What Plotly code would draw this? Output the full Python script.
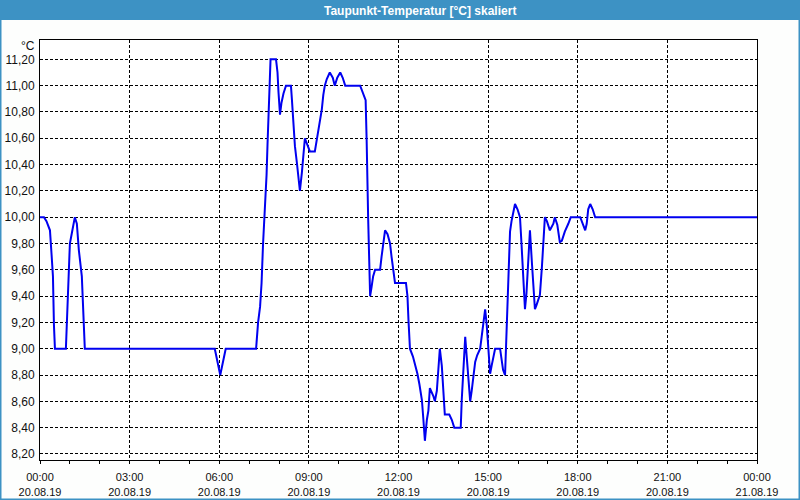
import plotly.graph_objects as go

# ---- data: minutes since 20.08.19 00:00, dew point in °C ----
minutes = [0, 8, 13, 20, 23, 26, 28, 30, 52, 54, 57, 60, 64, 70, 74, 78, 84, 87, 90,
           351, 362, 373, 434, 435, 438, 442, 445, 448, 452, 455, 457, 459, 461, 463,
           474, 477, 479, 482, 485, 489, 494, 504, 506, 509, 512, 516, 519, 522, 526,
           529, 532, 537, 542, 552, 556, 559, 562, 566, 569, 572, 576, 582, 588, 592,
           597, 603, 608, 613, 643, 647, 651, 654, 656, 657, 659, 661, 663, 666, 669,
           673, 683, 686, 689, 693, 698, 703, 706, 710, 713, 735, 738, 740, 743, 749,
           753, 758, 762, 767, 770, 773, 777, 780, 783, 787, 790, 793, 797, 800, 803,
           807, 810, 813, 822, 827, 832, 845, 847, 850, 852, 854, 857, 860, 864, 867,
           870, 874, 878, 884, 887, 890, 894, 897, 900, 904, 907, 910, 914, 924, 927,
           930, 934, 936, 939, 941, 943, 944, 947, 951, 954, 959, 964, 967, 971, 974,
           977, 981, 984, 988, 991, 994, 997, 1004, 1008, 1011, 1014, 1018, 1024, 1031,
           1034, 1039, 1044, 1048, 1054, 1061, 1066, 1085, 1090, 1095, 1098, 1101, 1105,
           1110, 1115, 1440]
values = [10.00, 10.00, 9.97, 9.90, 9.73, 9.55, 9.18, 9.00, 9.00, 9.17, 9.48, 9.80, 9.88, 10.00, 9.95, 9.75, 9.55, 9.20, 9.00,
          9.00, 8.80, 9.00, 9.00, 9.05, 9.20, 9.32, 9.50, 9.80, 10.05, 10.32, 10.56, 10.76, 10.97, 11.20,
          11.20, 11.10, 10.95, 10.78, 10.87, 10.94, 11.00, 11.00, 10.89, 10.69, 10.54, 10.41, 10.31, 10.20, 10.34,
          10.45, 10.60, 10.55, 10.50, 10.50, 10.59, 10.65, 10.74, 10.82, 10.93, 11.00, 11.05, 11.10, 11.06, 11.00,
          11.06, 11.10, 11.06, 11.00, 11.00, 10.96, 10.93, 10.89, 10.59, 10.31, 10.00, 9.70, 9.40, 9.47, 9.55,
          9.60, 9.60, 9.70, 9.80, 9.90, 9.87, 9.80, 9.70, 9.60, 9.50, 9.50, 9.40, 9.22, 9.00, 8.94,
          8.89, 8.81, 8.73, 8.61, 8.46, 8.30, 8.46, 8.53, 8.70, 8.67, 8.64, 8.60, 8.68, 8.84, 9.00,
          8.87, 8.70, 8.50, 8.50, 8.46, 8.40, 8.40, 8.61, 8.81, 8.97, 9.09, 8.94, 8.76, 8.60, 8.68,
          8.79, 8.90, 8.95, 9.00, 9.09, 9.19, 9.30, 9.19, 9.00, 8.81, 8.87, 8.94, 9.00, 9.00, 8.92,
          8.84, 8.80, 9.02, 9.25, 9.45, 9.68, 9.89, 9.97, 10.06, 10.10, 10.06, 10.00, 9.80, 9.52, 9.30,
          9.42, 9.65, 9.90, 9.65, 9.45, 9.30, 9.33, 9.41, 9.62, 9.80, 10.00, 9.97, 9.90, 9.95,
          10.00, 9.94, 9.81, 9.82, 9.89, 9.95, 10.00, 10.00, 9.95, 9.90, 9.95, 10.06, 10.10,
          10.06, 10.00, 10.00]

tick_hours = [0, 3, 6, 9, 12, 15, 18, 21, 24]
tick_times = ["00:00", "03:00", "06:00", "09:00", "12:00", "15:00", "18:00", "21:00", "00:00"]
tick_dates = ["20.08.19"] * 8 + ["21.08.19"]
y_ticks = [8.2, 8.4, 8.6, 8.8, 9.0, 9.2, 9.4, 9.6, 9.8, 10.0, 10.2, 10.4, 10.6, 10.8, 11.0, 11.2]
title_text = "Taupunkt-Temperatur [°C] skaliert"
unit_text = "°C"

hours = [m / 60 for m in minutes]

W, H = 800, 500
L, R, T, B = 40, 43, 40, 40
pw, ph = W - L - R, H - T - B


def px(x):
    return (x - L) / pw


def py(y):
    return 1 - (y - T) / ph


BAR = "#3d92c4"
FONT = "Liberation Sans"

fig = go.Figure()
fig.add_trace(go.Scatter(x=hours, y=values, mode="lines",
                         line=dict(color="#0000f0", width=2), hoverinfo="skip"))

grid = dict(showgrid=True, gridcolor="black", gridwidth=1, griddash="3px,2px")

fig.update_layout(
    width=W, height=H,
    margin=dict(l=L, r=R, t=T, b=B, autoexpand=False),
    paper_bgcolor="#fdfefd", plot_bgcolor="white",
    showlegend=False,
    separators=",.",
    font=dict(family=FONT, size=12, color="#111111"),
    xaxis=dict(range=[0, 24], tickvals=tick_hours,
               ticktext=[f"{a}<br>{b}" for a, b in zip(tick_times, tick_dates)],
               tickfont=dict(family=FONT, size=11, color="#111111"),
               ticks="outside", ticklen=3, tickcolor="black", ticklabelstandoff=4,
               minor=dict(ticks="outside", ticklen=3, dtick=1, tickcolor="black", showgrid=False),
               showline=True, mirror=True, linecolor="black", linewidth=1,
               zeroline=False, fixedrange=True, automargin=False, **grid),
    yaxis=dict(range=[8.154, 11.347], tickvals=y_ticks, tickformat=".2f",
               ticks="outside", ticklen=2, tickcolor="rgba(0,0,0,0)",
               showline=True, mirror=True, linecolor="black", linewidth=1,
               zeroline=False, fixedrange=True, automargin=False, **grid),
    shapes=[
        dict(type="rect", xref="paper", yref="paper", x0=px(0), x1=px(800),
             y0=py(20), y1=py(0), fillcolor=BAR, line=dict(width=0), layer="above"),
        dict(type="rect", xref="paper", yref="paper", x0=px(0), x1=px(1.5),
             y0=py(500), y1=py(20), fillcolor=BAR, line=dict(width=0), layer="above"),
        dict(type="rect", xref="paper", yref="paper", x0=px(798.5), x1=px(800),
             y0=py(500), y1=py(20), fillcolor=BAR, line=dict(width=0), layer="above"),
        dict(type="rect", xref="paper", yref="paper", x0=px(0), x1=px(800),
             y0=py(500), y1=py(498.5), fillcolor=BAR, line=dict(width=0), layer="above"),
    ],
    annotations=[
        dict(text=f"<b>{title_text}</b>", xref="paper", yref="paper", x=px(420), y=py(10.5),
             xanchor="center", yanchor="middle", showarrow=False,
             font=dict(family=FONT, size=12, color="white")),
        dict(text=unit_text, xref="paper", yref="paper", x=px(37), y=py(46),
             xanchor="right", yanchor="middle", showarrow=False,
             font=dict(family=FONT, size=12, color="#111111")),
    ],
)

fig.write_html("out.html")
